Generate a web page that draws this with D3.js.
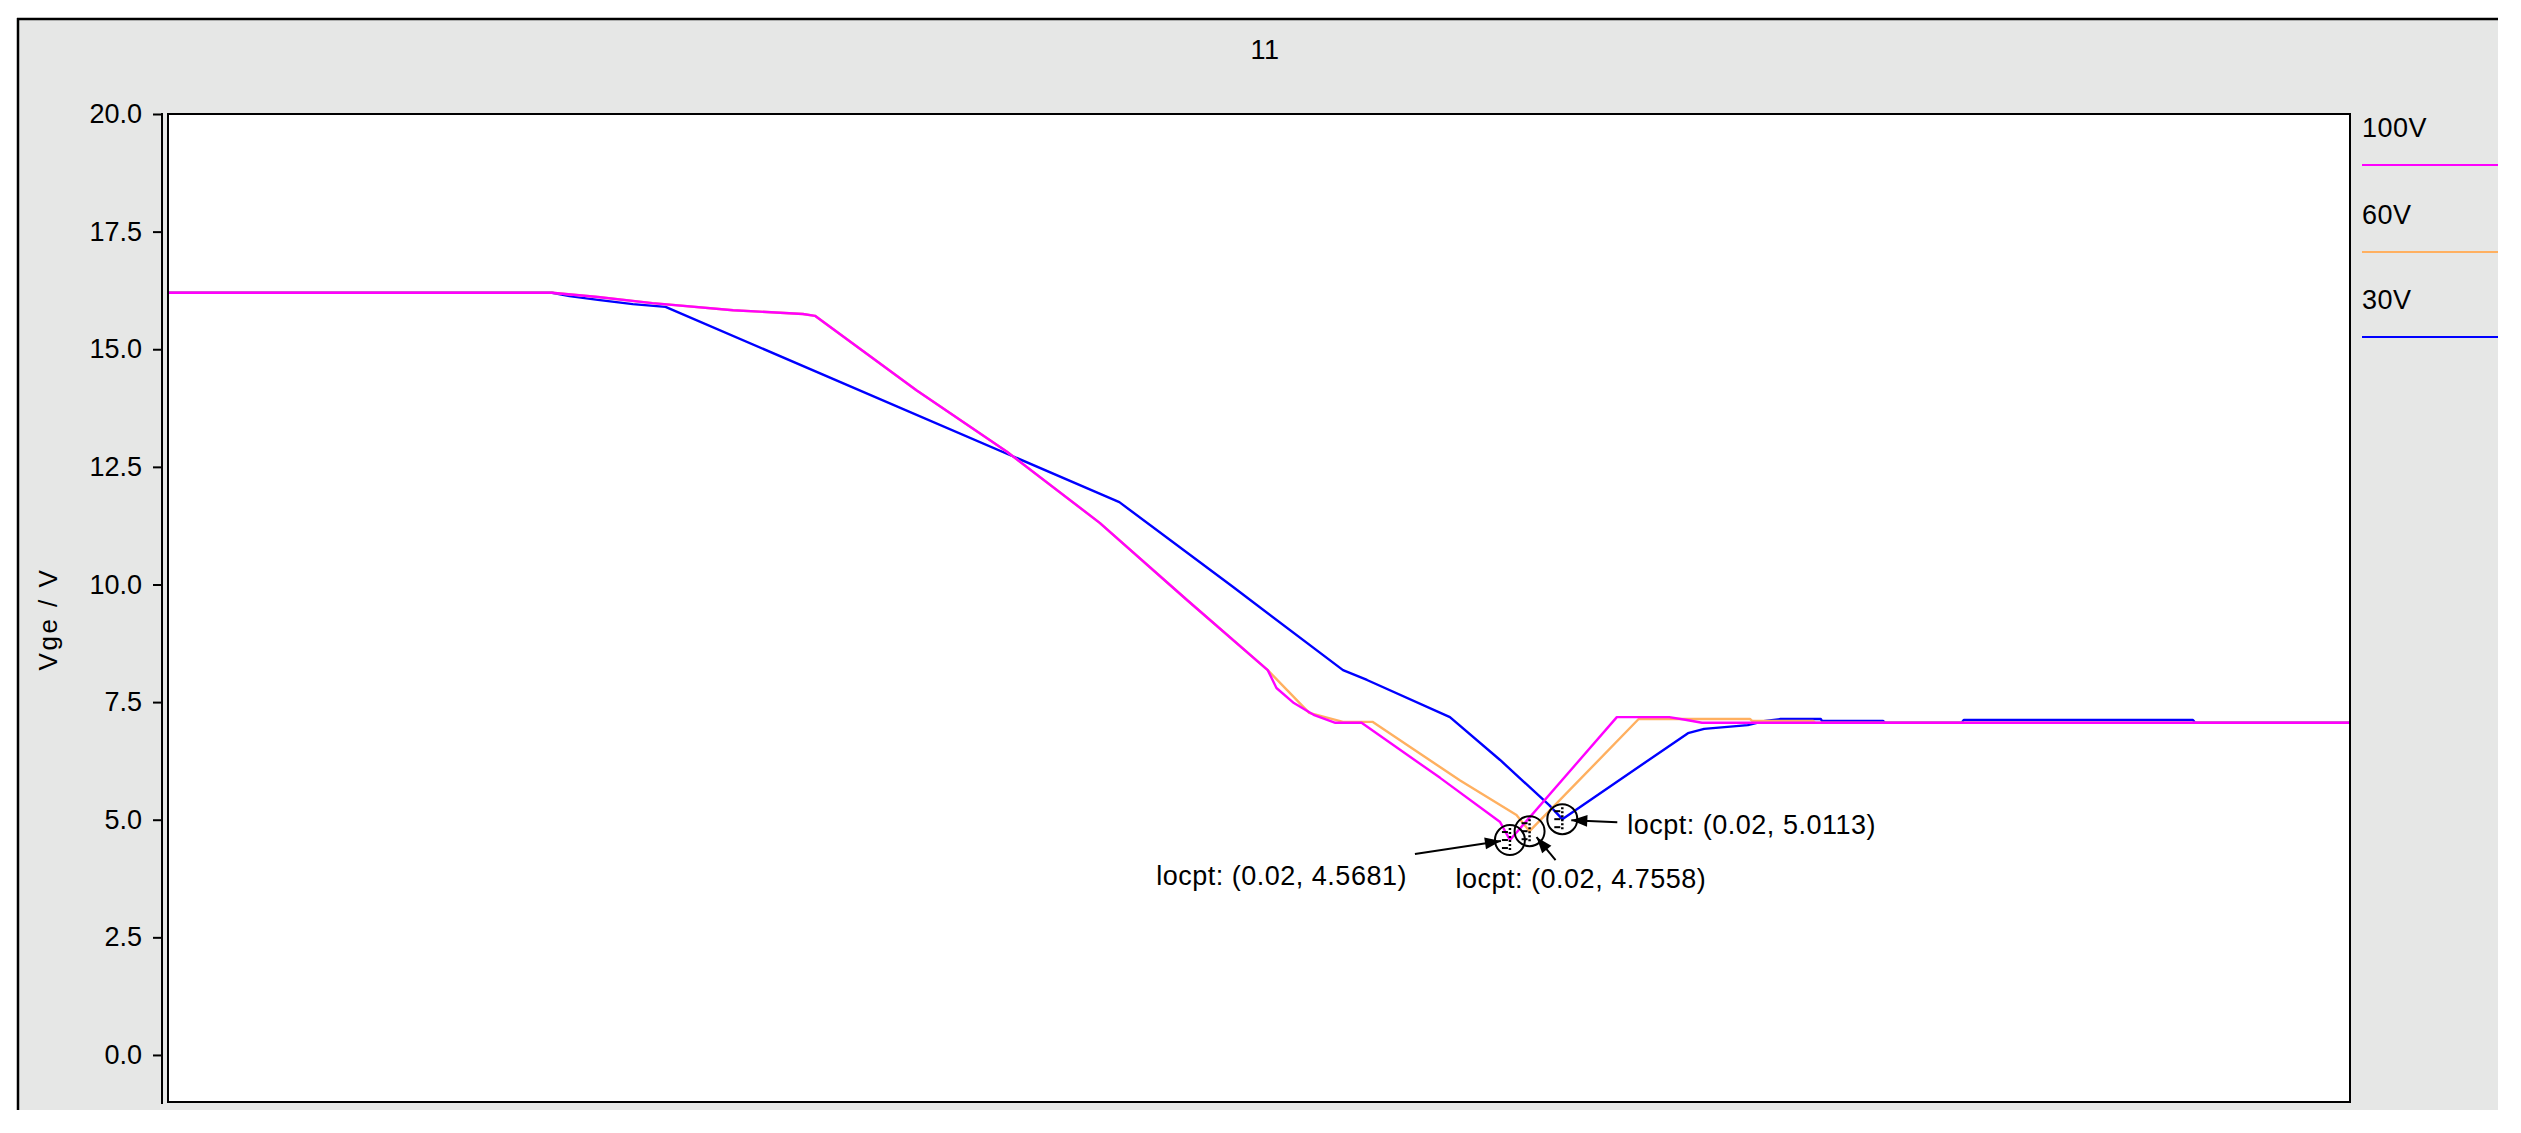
<!DOCTYPE html>
<html>
<head>
<meta charset="utf-8">
<script src="https://cdn.jsdelivr.net/npm/d3@7/dist/d3.min.js"></script>
<style>
  html, body { margin: 0; padding: 0; background: #ffffff; }
  svg { display: block; }
  text { font-family: "Liberation Sans", Arial, sans-serif; fill: #000; letter-spacing: 0.5px; }
</style>
</head>
<body>
<script>
// ---------------- DATA ----------------
const chartTitle = "11";
const yLabel = "Vge / V";
const xDomain = [0, 100];          // time window (arbitrary units, no x labels shown)
const yDomain = [-1, 20];
const yTicks = [0, 2.5, 5, 7.5, 10, 12.5, 15, 17.5, 20];

const seriesNames = ["100V", "60V", "30V"];

// 100V
const t100 = [0, 17.6, 19.7, 22.2, 25.9, 29.1, 29.65, 34.3, 38.45, 42.7, 46.7, 50.4, 50.8, 51.6, 52.5, 53.5, 54.7, 58.3, 61.05, 61.5, 66.4, 68.8, 69.6, 70.3, 100];
const v100 = [16.2, 16.2, 16.11, 15.98, 15.83, 15.75, 15.71, 14.13, 12.82, 11.31, 9.67, 8.18, 7.80, 7.48, 7.23, 7.06, 7.06, 5.89, 4.95, 4.5681, 7.18, 7.18, 7.12, 7.06, 7.06];

// 60V
const t60 = [0, 17.6, 19.7, 22.2, 25.9, 29.1, 29.65, 34.3, 38.45, 42.7, 46.7, 50.4, 52.3, 53.85, 55.2, 59.2, 61.8, 62.4, 67.4, 72.5, 72.6, 75.4, 75.5, 100];
const v60 = [16.2, 16.2, 16.11, 15.98, 15.83, 15.75, 15.71, 14.13, 12.82, 11.31, 9.67, 8.18, 7.27, 7.08, 7.08, 5.84, 5.10, 4.7558, 7.14, 7.14, 7.10, 7.10, 7.06, 7.06];

// 30V
const t30 = [0, 17.6, 18.4, 19.7, 21.3, 22.8, 43.6, 48.8, 53.85, 54.95, 58.75, 61.05, 63.3, 63.9, 69.66, 70.4, 72.4, 73.2, 73.9, 75.75, 75.8, 78.6, 78.7, 82.2, 82.3, 92.8, 92.9, 100];
const v30 = [16.2, 16.2, 16.13, 16.05, 15.96, 15.90, 11.75, 9.95, 8.18, 7.97, 7.18, 6.27, 5.31, 5.0113, 6.84, 6.93, 7.01, 7.10, 7.14, 7.14, 7.10, 7.10, 7.06, 7.06, 7.12, 7.12, 7.06, 7.06];

// annotation points (locpt markers): series index, time, value
const locSeries = [0, 1, 2];
const locT = [61.5, 62.4, 63.9];
const locV = [4.5681, 4.7558, 5.0113];
const locXLabel = ["0.02", "0.02", "0.02"];

// ---------------- STYLE / LAYOUT ----------------
const W = 2521, H = 1133;
const colors = ["#ff00ff", "#ffb060", "#0000ff"];
const panel = { x: 17, y: 18, w: 2481, h: 1092 };
const plot = { left: 168, top: 114, right: 2350, bottom: 1102 };
const fontSize = 27;

const svg = d3.select("body").append("svg").attr("width", W).attr("height", H);

// gray panel
svg.append("rect").attr("x", panel.x).attr("y", panel.y).attr("width", panel.w).attr("height", panel.h)
  .attr("fill", "#e6e7e6");
svg.append("line").attr("x1", panel.x).attr("x2", panel.x + panel.w).attr("y1", panel.y + 1).attr("y2", panel.y + 1)
  .attr("stroke", "#000").attr("stroke-width", 2.5);
svg.append("line").attr("x1", panel.x + 1).attr("x2", panel.x + 1).attr("y1", panel.y).attr("y2", panel.y + panel.h)
  .attr("stroke", "#000").attr("stroke-width", 2.5);

// title
svg.append("text").attr("x", 1265).attr("y", 50).attr("text-anchor", "middle").attr("dominant-baseline", "central")
  .attr("font-size", fontSize).text(chartTitle);

// scales
const x = d3.scaleLinear().domain(xDomain).range([plot.left, plot.right]);
const y = d3.scaleLinear().domain(yDomain).range([plot.bottom, plot.top]);

// plot area
svg.append("rect").attr("x", plot.left).attr("y", plot.top)
  .attr("width", plot.right - plot.left).attr("height", plot.bottom - plot.top)
  .attr("fill", "#fff").attr("stroke", "#000").attr("stroke-width", 2);

// y axis
const yAxis = d3.axisLeft(y).tickValues(yTicks).tickFormat(d3.format(".1f")).tickSize(9).tickPadding(11);
const gy = svg.append("g").attr("transform", `translate(162,0)`).call(yAxis);
gy.select(".domain").remove();
gy.append("line").attr("x1", 0).attr("x2", 0).attr("y1", plot.top - 1).attr("y2", plot.bottom + 2)
  .attr("stroke", "#000").attr("stroke-width", 2);
gy.selectAll(".tick line").attr("stroke", "#000").attr("stroke-width", 2);
gy.selectAll(".tick text").attr("font-size", fontSize).attr("fill", "#000").style("letter-spacing", "0px")
  .attr("font-family", "'Liberation Sans', Arial, sans-serif");

// y label
svg.append("text").attr("transform", `translate(48,619) rotate(-90)`).attr("text-anchor", "middle")
  .attr("dominant-baseline", "central").attr("font-size", 26).style("letter-spacing", "2.5px").text(yLabel);

// clip
svg.append("defs").append("clipPath").attr("id", "clip").append("rect")
  .attr("x", plot.left + 1).attr("y", plot.top + 1)
  .attr("width", plot.right - plot.left - 2).attr("height", plot.bottom - plot.top - 2);

const series = [
  { name: seriesNames[0], t: t100, v: v100, color: colors[0] },
  { name: seriesNames[1], t: t60, v: v60, color: colors[1] },
  { name: seriesNames[2], t: t30, v: v30, color: colors[2] }
];

const line = d3.line().x(d => x(d[0])).y(d => y(d[1]));
const gLines = svg.append("g").attr("clip-path", "url(#clip)");
// draw order: 30V, 60V, 100V on top
[2, 1, 0].forEach(i => {
  const s = series[i];
  gLines.append("path").datum(s.t.map((t, k) => [t, s.v[k]]))
    .attr("d", line).attr("fill", "none").attr("stroke", s.color).attr("stroke-width", 2.4)
    .attr("stroke-linejoin", "round");
});

// legend
const legendX = 2362, legendEnd = panel.x + panel.w;
const legendTextY = [128, 215, 300];
const legendLineY = [165, 252, 337];
series.forEach((s, i) => {
  svg.append("text").attr("x", legendX).attr("y", legendTextY[i]).attr("dominant-baseline", "central")
    .attr("font-size", fontSize).text(s.name);
  svg.append("line").attr("x1", legendX).attr("x2", legendEnd).attr("y1", legendLineY[i]).attr("y2", legendLineY[i])
    .attr("stroke", s.color).attr("stroke-width", 2);
});

// annotations
// offsets relative to the located point: [arrowStartDx, arrowStartDy, arrowTipDx, arrowTipDy, textDx, textDy, anchor]
const annLayout = [
  [-95, 14, -9, 1, -103, 36, "end"],
  [26, 29, 7, 6, -74, 48, "start"],
  [55, 3, 9, 1, 65, 6, "start"]
];
const gAnn = svg.append("g");
locT.forEach((t, i) => {
  const px = x(t), py = y(locV[i]);
  const L = annLayout[i];
  const r = 15;
  // circle marker
  gAnn.append("circle").attr("cx", px).attr("cy", py).attr("r", r)
    .attr("fill", "none").attr("stroke", "#000").attr("stroke-width", 2);
  gAnn.append("line").attr("x1", px).attr("x2", px).attr("y1", py - r + 3).attr("y2", py + r - 3)
    .attr("stroke", "#000").attr("stroke-width", 2.5).attr("stroke-dasharray", "2,2");
  [-8, 0, 8].forEach(dy => {
    gAnn.append("line").attr("x1", px - 8).attr("x2", px - 2).attr("y1", py + dy).attr("y2", py + dy)
      .attr("stroke", "#000").attr("stroke-width", 2);
  });
  // arrow
  const x1 = px + L[0], y1 = py + L[1], x2 = px + L[2], y2 = py + L[3];
  gAnn.append("line").attr("x1", x1).attr("y1", y1).attr("x2", x2).attr("y2", y2)
    .attr("stroke", "#000").attr("stroke-width", 2);
  const ang = Math.atan2(y2 - y1, x2 - x1);
  const hl = 16, hw = 6;
  const bx = x2 - hl * Math.cos(ang), by = y2 - hl * Math.sin(ang);
  const p1 = [bx + hw * Math.sin(ang), by - hw * Math.cos(ang)];
  const p2 = [bx - hw * Math.sin(ang), by + hw * Math.cos(ang)];
  gAnn.append("path").attr("d", `M${x2},${y2}L${p1[0]},${p1[1]}L${p2[0]},${p2[1]}Z`).attr("fill", "#000");
  // label
  gAnn.append("text").attr("x", px + L[4]).attr("y", py + L[5]).attr("text-anchor", L[6])
    .attr("dominant-baseline", "central").attr("font-size", fontSize)
    .text(`locpt: (${locXLabel[i]}, ${locV[i].toFixed(4)})`);
});
</script>
</body>
</html>
